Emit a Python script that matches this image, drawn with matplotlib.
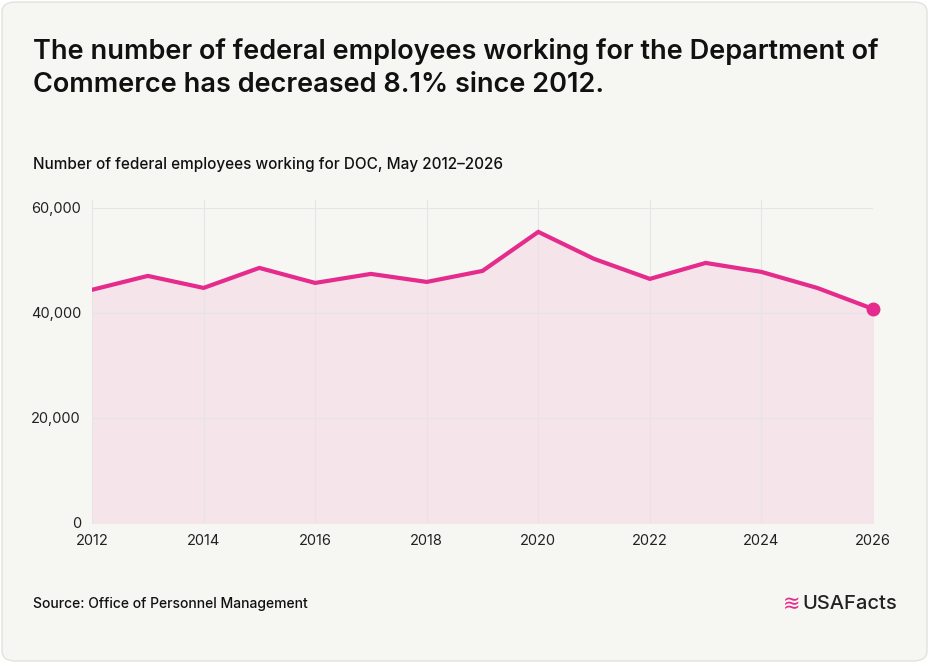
import matplotlib
matplotlib.use("Agg")
import matplotlib.pyplot as plt
from matplotlib.patches import FancyBboxPatch

years = [2012, 2013, 2014, 2015, 2016, 2017, 2018, 2019, 2020, 2021, 2022, 2023, 2024, 2025, 2026]
employees = [44400, 47050, 44760, 48570, 45710, 47430, 45900, 48000, 55430, 50290, 46480, 49520, 47810, 44760, 40760]
xticks = [2012, 2014, 2016, 2018, 2020, 2022, 2024, 2026]
yticks = [0, 20000, 40000, 60000]

plt.rcParams['font.family'] = ['Inter', 'DejaVu Sans']
W, H = 929, 663
fig = plt.figure(figsize=(W/100, H/100), dpi=100)
fig.patch.set_facecolor('white')
card = FancyBboxPatch((2/W, 2/H), (W-4)/W, (H-4)/H, boxstyle="round,pad=0,rounding_size=0.015",
                      transform=fig.transFigure, facecolor='#f6f6f3', edgecolor='#e2e2dd', lw=1, zorder=-10)
fig.patches.append(card)

ax = fig.add_axes([92/W, (H-523)/H, (873-92)/W, (523-200)/H])
ax.set_facecolor('none')
pink = '#e52b8c'
ax.fill_between(years, employees, 0, color='#f5e4ea', zorder=1)
ax.plot(years, employees, color=pink, lw=3, zorder=3, solid_joinstyle='miter')
ax.plot(years[-1], employees[-1], 'o', color=pink, ms=9, zorder=4, clip_on=False)
ax.set_xlim(2012, 2026)
ax.set_ylim(0, 61500)
ax.set_xticks(xticks)
ax.set_yticks(yticks)
ax.set_yticklabels([f"{v:,}" for v in yticks])
ax.grid(True, color='#e6e4e4', lw=0.8, zorder=0)
for s in ax.spines.values():
    s.set_visible(False)
ax.tick_params(length=0, labelsize=10.5, colors='#222222', pad=8)

fig.text(33/W, 1-68/H, "The number of federal employees working for the Department of\nCommerce has decreased 8.1% since 2012.",
         fontsize=19.5, fontweight='semibold', color='#111111', va='center', linespacing=1.35)
fig.text(33/W, 1-164/H, "Number of federal employees working for DOC, May 2012–2026",
         fontsize=11, fontweight='medium', color='#111111', va='center')
fig.text(33/W, 1-604/H, "Source: Office of Personnel Management", fontsize=10, fontweight='medium', color='#111111', va='center')
fig.text(897/W, 1-604/H, "USAFacts", fontsize=14.5, fontweight='medium', color='#222222', va='center', ha='right')
fig.text(792/W, 1-604/H, "≋", fontsize=15, color=pink, va='center', ha='center')
fig.savefig("out.png", dpi=100, facecolor=fig.get_facecolor())
